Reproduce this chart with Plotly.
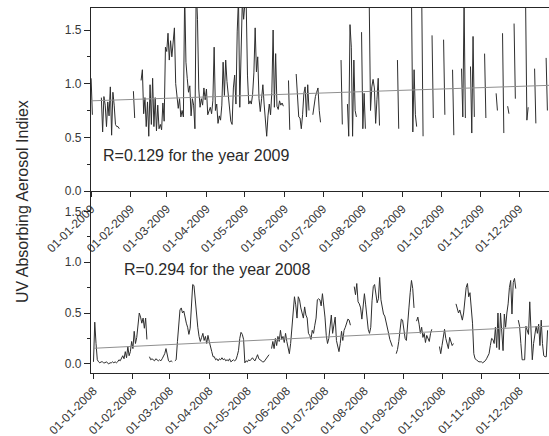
import pandas as pd
import plotly.graph_objects as go

# ---- Daily UV absorbing aerosol index, 2009 (runs of consecutive days, None = gap) ----
start_2009 = [0, 8, 33, 39, 154, 160, 173, 195, 200, 211, 217, 239, 250, 258, 266,
              275, 282, 289, 296, 307, 316, 321, 325, 330, 339, 346, 355]
aai_2009 = [
    1.05, 0.71, None,
    0.87, 0.55, 0.88, 0.80, 0.60, 0.83, 0.70, 0.97, 0.52, 0.92, 0.80, 0.62, 0.60, 0.60, 0.58, None,
    0.93, 0.68, None,
    1.03, 1.13, 0.72, 0.87, 0.60, 0.83, 0.51, 0.99, 0.62, 1.05, 0.60, 0.87, 0.56, 0.80, 0.58, 0.62, 0.57, 0.82, 0.65,
    1.34, 1.30, 1.47, 1.22, 1.40, 1.25, 1.40, 1.52, 1.00, 0.85, 0.77, 0.86, 0.69, 0.75, 0.69,
    1.85, 1.20, 1.05, 0.92, 0.98, 0.70, 0.86, 0.80, 0.58, 1.90, 1.60, 0.95, 0.78, 0.86, 0.80, 0.96, 0.85, 0.95, 0.71, 0.75,
    0.78, 0.72, 0.84, 1.34, 0.75, 0.81, 0.63, 0.70, 0.66, 0.80, 1.20, 0.89, 1.22, 1.02, 0.87, 0.77, 0.65, 0.62,
    0.96, 1.08, 0.81, 1.49, 1.80, 0.78, 1.20, 1.78, 1.60, 1.75, 1.76, 1.08, 0.81, 0.84, 0.81,
    0.90, 1.10, 1.52, 1.11, 1.25, 0.86, 0.74, 0.86, 0.99, 0.81, 0.60, 0.51, 0.70, 0.81, 0.71, 0.92, 1.50, 0.78,
    1.28, 0.79, 0.76, 0.84, 0.80, 0.82, 0.79, None,
    1.03, 0.57, None,
    1.09, 0.86, 0.69, 0.68, 0.58, 0.71, 0.91, 0.97, 0.69, 0.99, 0.75, None,
    0.71, 0.80, 0.88, 0.92, 0.96, 0.75, 0.64, None,
    1.22, 0.62, None,
    0.81, 0.51, 1.55, 1.34, 0.51, 1.22, 0.75, 0.69, None,
    1.48, 0.58, 0.91, 0.58, None,
    1.75, 0.75, 0.97, 1.04, 0.96, 0.63, 0.85, 1.05, 0.61, None,
    1.22, 0.58, None,
    1.75, 0.55, 1.13, 0.71, 0.60, None,
    1.75, 0.51, None,
    1.45, 0.68, None,
    1.41, 0.71, None,
    1.13, 0.52, None,
    1.14, 0.69, 1.75, 0.68, None,
    1.16, 0.54, 1.44, 0.69, None,
    1.28, 0.68, None,
    0.91, 0.75, None,
    1.47, 0.54, None,
    0.79, 0.72, None,
    1.56, 0.86, None,
    1.75, 0.66, 0.78, None,
    1.14, 0.63, None,
    1.24, 0.75,
]

# ---- Daily UV absorbing aerosol index, 2008 ----
start_2008 = [0, 44, 64, 140, 205, 238, 254, 272, 285, 334]
aai_2008 = [
    0.02, 0.41, 0.20, 0.04, 0.02, 0.01, 0.02, 0.02, 0.01, 0.01, 0.02, 0.01, 0.00, 0.01, 0.01,
    0.02, 0.01, 0.02, 0.01, 0.02, 0.04, 0.03, 0.06, 0.08, 0.05, 0.12, 0.06, 0.17, 0.08, 0.12,
    0.22, 0.15, 0.32, 0.20, 0.26, 0.36, 0.50, 0.46, 0.40, 0.45, 0.35, 0.45, 0.24, None,
    0.07, 0.04, 0.05, 0.04, 0.03, 0.05, 0.04, 0.03, 0.04, 0.03, 0.05, 0.07, 0.10, 0.15, 0.08,
    0.03, 0.02, 0.03, 0.02, None,
    0.03, 0.04, 0.22, 0.40, 0.53, 0.55, 0.50, 0.52, 0.45, 0.40, 0.36, 0.29, 0.35, 0.65, 0.78,
    0.77, 0.62, 0.50, 0.36, 0.27, 0.22, 0.26, 0.30, 0.23, 0.27, 0.20, 0.28, 0.22, 0.18, 0.12, 0.07,
    0.07, 0.04, 0.05, 0.03, 0.05, 0.04, 0.06, 0.04, 0.05, 0.03, 0.04, 0.03, 0.05, 0.02, 0.03,
    0.04, 0.03, 0.04, 0.08, 0.13, 0.25, 0.31, 0.29, 0.24, 0.01, 0.03, 0.02, 0.04, 0.03, 0.05,
    0.06, 0.04, 0.03, 0.06, 0.09, 0.05, 0.04, 0.03, 0.02, 0.02, 0.04, 0.06, 0.07, 0.09, None,
    0.15, 0.22, 0.15, 0.25, 0.18, 0.27, 0.22, 0.33, 0.24, 0.27, 0.21, 0.30, 0.22, 0.15, 0.10,
    0.20, 0.36, 0.55, 0.66, 0.58, 0.45, 0.66, 0.63, 0.55, 0.50, 0.45, 0.56, 0.48, 0.45, 0.30,
    0.28, 0.24, 0.33, 0.30, 0.38, 0.45, 0.63, 0.64,
    0.63, 0.57, 0.69, 0.60, 0.46, 0.28, 0.20, 0.25, 0.36, 0.48, 0.30, 0.40, 0.46, 0.23, 0.16,
    0.12, 0.20, 0.32, 0.23, 0.33, 0.36, 0.40, 0.44, 0.43, 0.38, None,
    0.76, 0.68, 0.79, 0.61, 0.59, 0.55, 0.44, 0.57, 0.69, 0.58, 0.42, 0.34, 0.30, 0.36, 0.62,
    0.76, 0.78, 0.69, 0.60, 0.64, 0.85, 0.63, 0.57, 0.49, 0.47, 0.40, 0.36, 0.30, 0.24, 0.19, 0.17, None,
    0.10, 0.14, 0.22, 0.33, 0.44, 0.43, 0.36, 0.25, 0.23, 0.36, 0.55, 0.70, 0.82, 0.74, 0.55, None,
    0.42, 0.46, 0.39, 0.30, 0.36, 0.26, 0.30, 0.21, 0.28, 0.24, 0.22, 0.30, 0.34, None,
    0.17, 0.10, 0.18, 0.26, 0.34, 0.25, 0.19, 0.15, 0.26, 0.21, 0.18, 0.20, None,
    0.59, 0.53, 0.50, 0.53, 0.48, 0.43, 0.50, 0.63, 0.75, 0.79, 0.66, 0.70, 0.52, 0.40, 0.10,
    0.05, 0.04, 0.03, 0.02, 0.02, 0.02, 0.01, 0.02, 0.03, 0.05, 0.07,
    0.10, 0.18, 0.25, 0.24, 0.20, 0.36, 0.16, 0.50, 0.14, 0.50, 0.32, 0.13, 0.49, 0.36, 0.50,
    0.59, 0.75, 0.82, 0.49, 0.80, 0.84, 0.74, None,
    0.43, 0.37, 0.20, 0.04, 0.04, 0.04, 0.37, 0.32, 0.29, 0.61, 0.33, 0.04, 0.20, 0.28, 0.37,
    0.30, 0.39, 0.18, 0.43, 0.20, 0.08, 0.07, 0.07, 0.33,
]

# Linear trend lines (value at first and last day of each year)
trend_dates_2009 = ["2009-01-01", "2009-12-31"]
trend_2009 = [0.84, 0.987]
trend_dates_2008 = ["2008-01-01", "2008-12-31"]
trend_2008 = [0.153, 0.375]

# Month tick labels
ticks_2009 = ["01-01-2009", "01-02-2009", "01-03-2009", "01-04-2009", "01-05-2009", "01-06-2009",
              "01-07-2009", "01-08-2009", "01-09-2009", "01-10-2009", "01-11-2009", "01-12-2009"]
ticks_2008 = ["01-01-2008", "01-02-2008", "01-03-2008", "01-04-2008", "01-05-2008", "01-06-2008",
              "01-07-2008", "01-08-2008", "01-09-2008", "01-10-2008", "01-11-2008", "01-12-2008"]

label_2009 = "R=0.129 for the year 2009"
label_2008 = "R=0.294 for the year 2008"
y_title = "UV Absorbing Aerosol Indiex"


def runs_to_xy(starts, values, year):
    base = pd.Timestamp(f"{year}-01-01")
    xs, ys = [], []
    run = 0
    day = starts[0]
    for v in values:
        if v is None:
            xs.append(None)
            ys.append(None)
            run += 1
            day = starts[run]
        else:
            xs.append(base + pd.Timedelta(days=day))
            ys.append(v)
            day += 1
    return xs, ys


x09, y09 = runs_to_xy(start_2009, aai_2009, 2009)
x08, y08 = runs_to_xy(start_2008, aai_2008, 2008)

tv09 = pd.to_datetime(ticks_2009, format="%d-%m-%Y")
tv08 = pd.to_datetime(ticks_2008, format="%d-%m-%Y")
half_month_09 = list(tv09) + [t + pd.Timedelta(days=15) for t in tv09]

FONT = "Liberation Sans, Arial, sans-serif"
AXC = "#262626"
DATA_C = "#2e2e2e"
TREND_C = "#8f8f8f"

fig = go.Figure()
fig.add_trace(go.Scatter(x=x09, y=y09, mode="lines", line=dict(color=DATA_C, width=1),
                         connectgaps=False, xaxis="x", yaxis="y", hoverinfo="skip"))
fig.add_trace(go.Scatter(x=pd.to_datetime(trend_dates_2009), y=trend_2009, mode="lines",
                         line=dict(color=TREND_C, width=1), xaxis="x", yaxis="y"))
fig.add_trace(go.Scatter(x=x08, y=y08, mode="lines", line=dict(color=DATA_C, width=1),
                         connectgaps=False, xaxis="x2", yaxis="y2", hoverinfo="skip"))
fig.add_trace(go.Scatter(x=pd.to_datetime(trend_dates_2008), y=trend_2008, mode="lines",
                         line=dict(color=TREND_C, width=1), xaxis="x2", yaxis="y2"))
# carrier for the inward tick marks along the top frame
fig.add_trace(go.Scatter(x=[], y=[], mode="lines", xaxis="x3", yaxis="y"))

split = (373 - 191) / 365.0
range09 = [pd.Timestamp("2009-01-01") - pd.Timedelta(hours=2), pd.Timestamp("2009-12-24 06:00")]
range08 = [pd.Timestamp("2007-12-30 01:00"), pd.Timestamp("2008-12-24 03:00")]

tickfont = dict(family=FONT, size=12, color="#383838")
xcommon = dict(showgrid=False, zeroline=False, showline=True, linecolor=AXC, linewidth=1.3,
               ticks="outside", ticklen=5, tickwidth=1.1, tickcolor=AXC, tickangle=-45,
               tickfont=tickfont)
ycommon = dict(showgrid=False, zeroline=False, showline=True, linecolor=AXC, linewidth=1.3,
               ticks="outside", ticklen=6, tickwidth=1.1, tickcolor=AXC, dtick=0.5, tick0=0,
               tickformat=".1f", tickfont=tickfont,
               minor=dict(ticks="outside", dtick=0.25, tick0=0, ticklen=3, tickcolor=AXC,
                          tickwidth=1, showgrid=False))

fig.update_layout(
    width=549, height=436,
    margin=dict(l=91, r=0, t=8, b=63),
    paper_bgcolor="white", plot_bgcolor="white",
    showlegend=False,
    template="none",
    xaxis=dict(domain=[0, 1], anchor="y", range=range09, tickvals=tv09, ticktext=ticks_2009,
               mirror=True, **xcommon),
    yaxis=dict(domain=[split, 1], anchor="x", range=[0, 1.705], **ycommon),
    xaxis2=dict(domain=[0, 1], anchor="y2", range=range08, tickvals=tv08, ticktext=ticks_2008,
                **xcommon),
    yaxis2=dict(domain=[0, split], anchor="x2", range=[-0.09, 1.70], **ycommon),
    xaxis3=dict(overlaying="x", side="top", anchor="y", range=range09, tickvals=half_month_09,
                showticklabels=False, ticks="inside", ticklen=5, tickwidth=1.1, tickcolor=AXC,
                showline=False, showgrid=False, zeroline=False),
    annotations=[
        dict(text=label_2009, xref="paper", yref="paper", x=(196 - 91) / 458, y=(373 - 155) / 365,
             xanchor="center", yanchor="middle", showarrow=False,
             font=dict(family=FONT, size=16, color="#2a2a2a")),
        dict(text=label_2008, xref="paper", yref="paper", x=(216.5 - 91) / 458, y=(373 - 269) / 365,
             xanchor="center", yanchor="middle", showarrow=False,
             font=dict(family=FONT, size=16, color="#2a2a2a")),
        dict(text=y_title, xref="paper", yref="paper", x=(22 - 91) / 458, y=(373 - 202) / 365,
             xanchor="center", yanchor="middle", textangle=-90, showarrow=False,
             font=dict(family=FONT, size=16, color="#2a2a2a")),
    ],
)

fig.write_html("out.html")
